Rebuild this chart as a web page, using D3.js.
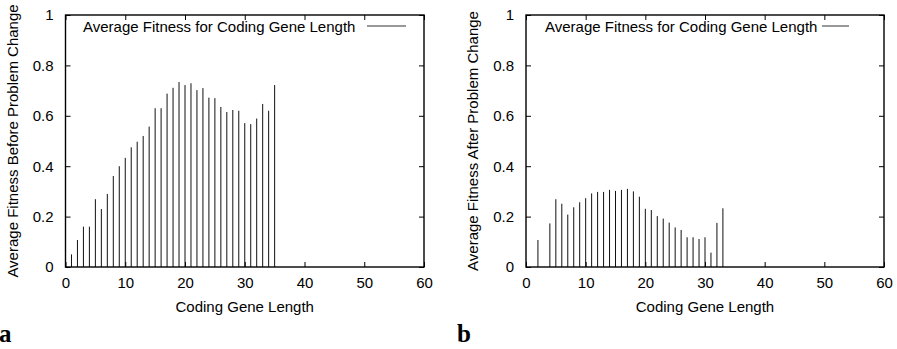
<!DOCTYPE html>
<html>
<head>
<meta charset="utf-8">
<script src="https://d3js.org/d3.v7.min.js"></script>
<style>
body{ margin:0; background:#fff; }
text{ font-family: "Liberation Sans", Arial, sans-serif; fill:#000; }
.axis text{ font-size:15px; }
</style>
</head>
<body>
<script>
// coding gene lengths with a value, and the averaged fitness
var lengthsBefore = [1,2,3,4,5,6,7,8,9,10,11,12,13,14,15,16,17,18,19,20,21,22,23,24,25,26,27,28,29,30,31,32,33,34,35]
var fitnessBefore = [0.05,0.107,0.16,0.16,0.269,0.23,0.29,0.361,0.40,0.433,0.475,0.497,0.52,0.557,0.63,0.63,0.688,0.711,0.734,0.722,0.729,0.702,0.71,0.672,0.67,0.635,0.615,0.623,0.62,0.571,0.567,0.589,0.647,0.62,0.722]

var lengthsAfter = [2,4,5,6,7,8,9,10,11,12,13,14,15,16,17,18,19,20,21,22,23,24,25,26,27,28,29,30,31,32,33]
var fitnessAfter = [0.107,0.173,0.269,0.251,0.208,0.237,0.257,0.273,0.292,0.298,0.298,0.306,0.302,0.306,0.31,0.30,0.279,0.231,0.226,0.202,0.192,0.176,0.157,0.147,0.118,0.118,0.111,0.118,0.057,0.175,0.233]

var xTicks = [0,10,20,30,40,50,60]
var yTicks = [0,0.2,0.4,0.6,0.8,1]
var xTitle = "Coding Gene Length"
var legendLabel = "Average Fitness for Coding Gene Length"

var W = 897, H = 349
var svg = d3.select("body").append("svg")
            .attr("width", W)
            .attr("height", H)

var panels = [
  {xs: lengthsBefore, ys: fitnessBefore, left: 65.5, right: 424, ylab: "Average Fitness Before Problem Change",
   ylabX: 17.5, tag: "a", tagX: -1, keyText: 83, keyLine: [367, 406]},
  {xs: lengthsAfter, ys: fitnessAfter, left: 526, right: 884, ylab: "Average Fitness After Problem Change",
   ylabX: 478, tag: "b", tagX: 457, keyText: 545, keyLine: [822, 849]}
]
var plotTop = 15, plotBottom = 267

panels.forEach(function(p){
    var x = d3.scaleLinear().domain([0, 60]).range([p.left, p.right])
    var y = d3.scaleLinear().domain([0, 1]).range([plotBottom, plotTop])

    // impulses
    svg.append("g")
       .selectAll("line")
       .data(p.xs)
       .enter()
       .append("line")
       .attr("x1", function(d){ return x(d) })
       .attr("x2", function(d){ return x(d) })
       .attr("y1", y(0))
       .attr("y2", function(d, i){ return y(p.ys[i]) })
       .attr("stroke", "#111")
       .attr("stroke-width", 1)

    // axes, ticks point inwards on every side
    var gb = svg.append("g").attr("class", "axis")
                .attr("transform", "translate(0," + plotBottom + ")")
                .call(d3.axisBottom(x).tickValues(xTicks).tickSize(-5).tickPadding(10))
    var gl = svg.append("g").attr("class", "axis")
                .attr("transform", "translate(" + p.left + ",0)")
                .call(d3.axisLeft(y).tickValues(yTicks).tickSize(-5).tickPadding(12).tickFormat(d3.format("")))
    var gt = svg.append("g").attr("class", "axis")
                .attr("transform", "translate(0," + plotTop + ")")
                .call(d3.axisTop(x).tickValues(xTicks).tickSize(-5).tickFormat(""))
    var gr = svg.append("g").attr("class", "axis")
                .attr("transform", "translate(" + p.right + ",0)")
                .call(d3.axisRight(y).tickValues(yTicks).tickSize(-5).tickFormat(""))
    ;[gb, gl, gt, gr].forEach(function(g){
        g.select(".domain").remove()
        g.selectAll("text").attr("font-family", null).attr("font-size", null)
        g.selectAll(".tick line").attr("stroke", "#000")
    })

    svg.append("rect")
       .attr("x", p.left)
       .attr("y", plotTop)
       .attr("width", p.right - p.left)
       .attr("height", plotBottom - plotTop)
       .attr("fill", "none")
       .attr("stroke", "#000")
       .attr("stroke-width", 1.4)

    // key
    svg.append("text")
       .attr("x", p.keyText)
       .attr("y", 31.5)
       .attr("font-size", "15px")
       .text(legendLabel)
    svg.append("line")
       .attr("x1", p.keyLine[0])
       .attr("x2", p.keyLine[1])
       .attr("y1", 26)
       .attr("y2", 26)
       .attr("stroke", "#333")
       .attr("stroke-width", 1)

    svg.append("text")
       .attr("x", (p.left + p.right) / 2)
       .attr("y", 311.5)
       .attr("text-anchor", "middle")
       .attr("font-size", "15px")
       .text(xTitle)

    svg.append("text")
       .attr("transform", "translate(" + p.ylabX + "," + ((plotTop + plotBottom) / 2) + ") rotate(-90)")
       .attr("text-anchor", "middle")
       .attr("font-size", "15px")
       .text(p.ylab)

    // panel letter, bold serif
    svg.append("text")
       .attr("x", p.tagX)
       .attr("y", 341.5)
       .style("font-family", "'Liberation Serif', 'DejaVu Serif', serif")
       .style("font-weight", "bold")
       .style("font-size", "25px")
       .text(p.tag)
})
</script>
</body>
</html>
